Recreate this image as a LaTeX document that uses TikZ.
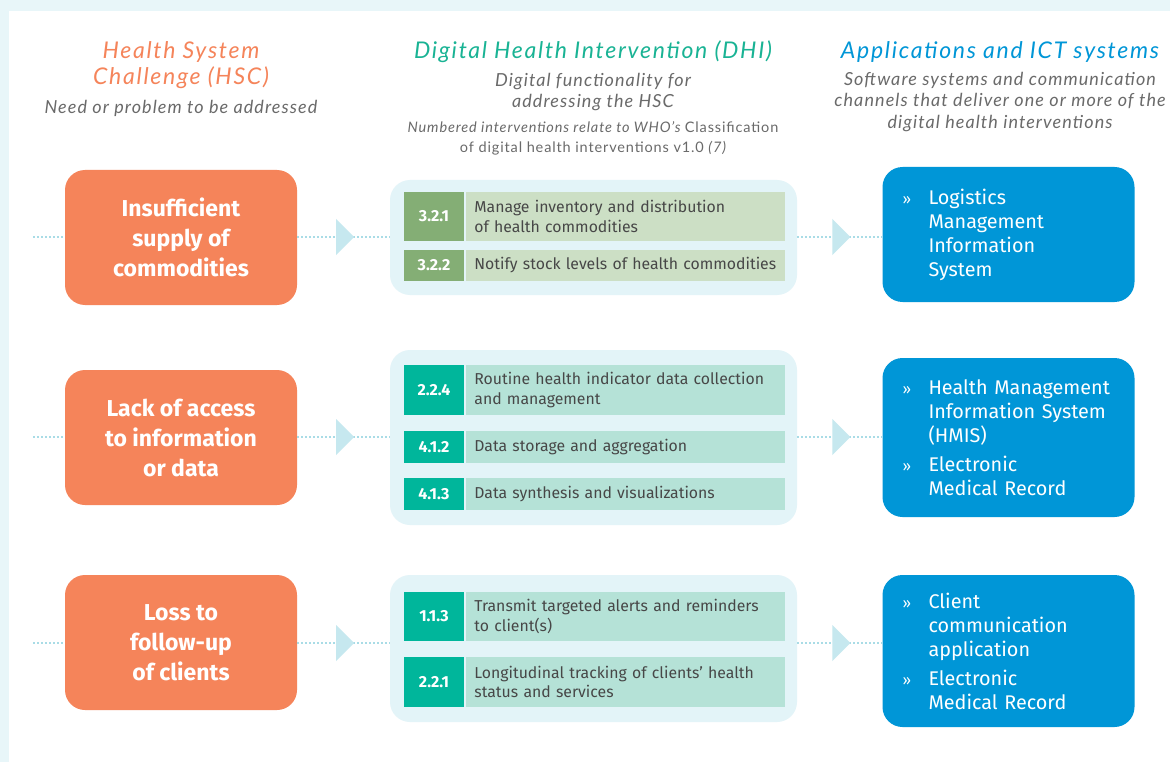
\documentclass[tikz,border=0pt]{standalone}
\usepackage{fontspec}
\setmainfont{Fira Sans}
\newfontfamily\headfont{Lato}[LetterSpace=7.5]
\newfontfamily\notefont{Lato}[LetterSpace=6]
\usetikzlibrary{shapes.geometric}
\usetikzlibrary{positioning}

\newcommand{\appbul}{\makebox[26pt][l]{\fontsize{15}{24}\selectfont »}}
\newcommand{\appind}{\hspace*{26pt}}

\begin{document}
\begin{tikzpicture}[x=1pt,y=-1pt,
	hsc node/.style={rectangle,rounded corners=20pt,fill=hscorange,text=white,
		minimum width=232pt,minimum height=135pt,align=center,
		font=\fontsize{23}{30}\selectfont\bfseries},
	dhi frame/.style={rectangle,rounded corners=20pt,fill=framebg,minimum width=407pt},
	code box/.style={rectangle,inner sep=0pt,minimum width=60pt,text=white,
		font=\fontsize{16}{18}\selectfont\bfseries},
	item box/.style={rectangle,inner xsep=8pt,inner ysep=0pt,text width=303pt,
		align=left,text=itemtext,font=\fontsize{15.8}{19.5}\selectfont},
	app node/.style={rectangle,rounded corners=20pt,fill=appblue,text=white,
		inner xsep=20pt,text width=212pt,align=left,minimum width=251pt,
		font=\fontsize{19.8}{24}\selectfont,
		execute at begin node={\hyphenpenalty=10000\relax}},
	flow/.style={draw=dotblue,line width=1.6pt,dash pattern=on 1.6pt off 2.4pt},
	arrow tri/.style={isosceles triangle,isosceles triangle stretches,
		fill=triblue,inner sep=0pt,minimum width=36pt,minimum height=18pt},
	title/.style={align=center,font=\headfont\itshape\fontsize{23}{26}\selectfont},
	subtitle/.style={align=center,text=subgray,font=\notefont\itshape\fontsize{18}{21.5}\selectfont},
	note/.style={align=center,text=subgray,font=\notefont\fontsize{14.5}{20}\selectfont}]
	
	\definecolor{bgblue}{HTML}{E8F6F9}
	\definecolor{framebg}{HTML}{E3F4F8}
	\definecolor{hscorange}{HTML}{F5845A}
	\definecolor{dhiteal}{HTML}{19B394}
	\definecolor{appblue}{HTML}{0096D7}
	\definecolor{subgray}{HTML}{6A6A6A}
	\definecolor{itemtext}{HTML}{474747}
	\definecolor{dotblue}{HTML}{A9DCE6}
	\definecolor{triblue}{HTML}{C6E8EF}
	\definecolor{dgreen}{HTML}{84AE75}
	\definecolor{lgreen}{HTML}{CCDFC5}
	\definecolor{dteal}{HTML}{00B69B}
	\definecolor{lteal}{HTML}{B5E2D7}
	
	\useasboundingbox (0,0) rectangle (1170,762);
	\fill[bgblue] (0,0) rectangle (1170,762);
	\fill[white] (9,11) rectangle (1170,762);
	
	% column headings
	\node[title,text=hscorange] (hsctitle) at (181,65) {Health System\\Challenge (HSC)};
	\node[subtitle] (hscsub) at (181,108) {Need or problem to be addressed};
	\node[title,text=dhiteal] (dhititle) at (593,52) {Digital Health Intervention (DHI)};
	\node[subtitle] (dhisub) at (593,92) {Digital functionality for\\addressing the HSC};
	\node[note] (dhinote) at (593,138) {\itshape Numbered interventions relate to WHO’s \upshape Classification\\of digital health interventions v1.0 \itshape (7)};
	\node[title,text=appblue] (apptitle) at (1000,52) {Applications and ICT systems};
	\node[subtitle] (appsub) at (1000,102) {Software systems and communication\\channels that deliver one or more of the\\digital health interventions};
	
	% health system challenges
	\node[hsc node] (h1) at (181,237.5) {Insufficient\\supply of\\commodities};
	\node[hsc node] (h2) at (181,437.5) {Lack of access\\to information\\or data};
	\node[hsc node] (h3) at (181,642.5) {Loss to\\follow-up\\of clients};
	
	% digital health interventions
	\node[dhi frame,minimum height=115pt] (d1) at (593.5,237.5) {};
	\node[dhi frame,minimum height=175pt] (d2) at (593.5,437.5) {};
	\node[dhi frame,minimum height=147pt] (d3) at (593.5,648.5) {};
	
	\node[code box,fill=dgreen,minimum height=49pt] (c321) at (434,216.5) {3.2.1};
	\node[item box,fill=lgreen,minimum height=49pt,right=2pt of c321] (t321) {Manage inventory and distribution\\of health commodities};
	\node[code box,fill=dgreen,minimum height=31pt] (c322) at (434,265.5) {3.2.2};
	\node[item box,fill=lgreen,minimum height=31pt,right=2pt of c322] (t322) {Notify stock levels of health commodities};
	
	\node[code box,fill=dteal,minimum height=50pt] (c224) at (434,390) {2.2.4};
	\node[item box,fill=lteal,minimum height=50pt,right=2pt of c224] (t224) {Routine health indicator data collection\\and management};
	\node[code box,fill=dteal,minimum height=32pt] (c412) at (434,447) {4.1.2};
	\node[item box,fill=lteal,minimum height=32pt,right=2pt of c412] (t412) {Data storage and aggregation};
	\node[code box,fill=dteal,minimum height=32pt] (c413) at (434,494) {4.1.3};
	\node[item box,fill=lteal,minimum height=32pt,right=2pt of c413] (t413) {Data synthesis and visualizations};
	
	\node[code box,fill=dteal,minimum height=49pt] (c113) at (434,616.5) {1.1.3};
	\node[item box,fill=lteal,minimum height=49pt,right=2pt of c113] (t113) {Transmit targeted alerts and reminders\\to client(s)};
	\node[code box,fill=dteal,minimum height=50pt] (c221) at (434,682) {2.2.1};
	\node[item box,fill=lteal,minimum height=50pt,right=2pt of c221] (t221) {Longitudinal tracking of clients’ health\\status and services};
	
	% applications and ICT systems
	\node[app node,minimum height=135pt] (s1) at (1008.5,234.5) {\appbul Logistics\\\appind Management\\\appind Information\\\appind System};
	\node[app node,minimum height=159pt] (s2) at (1008.5,437.5) {\appbul Health Management\\\appind Information System\\\appind (HMIS)\\[5pt]\appbul Electronic\\\appind Medical Record};
	\node[app node,minimum height=152pt] (s3) at (1008.5,651) {\appbul Client\\\appind communication\\\appind application\\[5pt]\appbul Electronic\\\appind Medical Record};
	
	% dotted flow lines
	\coordinate (in1) at (33,237);
	\coordinate (in2) at (33,437);
	\coordinate (in3) at (33,643);
	\draw[flow] (in1) -- (in1 -| h1.west);
	\draw[flow] (in2) -- (in2 -| h2.west);
	\draw[flow] (in3) -- (in3 -| h3.west);
	\draw[flow] (in1 -| h1.east) -- node[arrow tri] (a1) {} (in1 -| d1.west);
	\draw[flow] (in2 -| h2.east) -- node[arrow tri] (a2) {} (in2 -| d2.west);
	\draw[flow] (in3 -| h3.east) -- node[arrow tri] (a3) {} (in3 -| d3.west);
	\draw[flow] (in1 -| d1.east) -- node[arrow tri] (b1) {} (in1 -| s1.west);
	\draw[flow] (in2 -| d2.east) -- node[arrow tri] (b2) {} (in2 -| s2.west);
	\draw[flow] (in3 -| d3.east) -- node[arrow tri] (b3) {} (in3 -| s3.west);
\end{tikzpicture}
\end{document}
